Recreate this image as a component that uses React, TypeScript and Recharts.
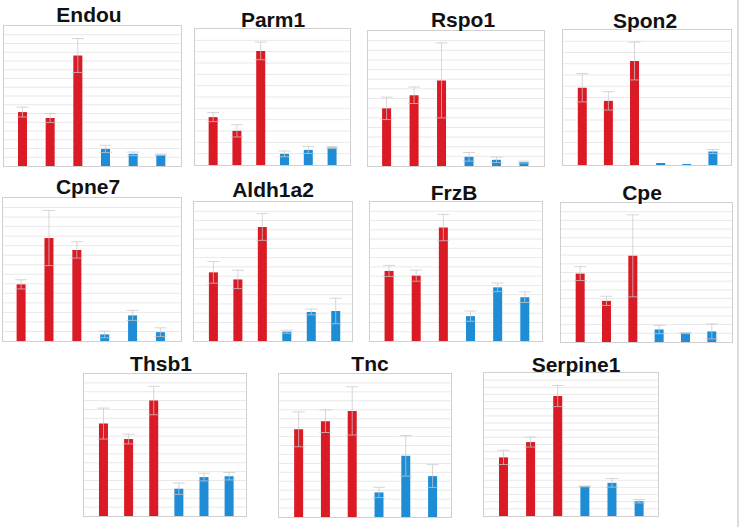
import React from "react";
import { BarChart, Bar, XAxis, YAxis, ReferenceLine, ErrorBar, Cell } from "recharts";

// six samples per gene: three red groups, three blue groups
const groups = ["r1", "r2", "r3", "b1", "b2", "b3"];
const RED = "#da1a24";
const BLUE = "#1f8dd6";

const genes = ["Endou", "Parm1", "Rspo1", "Spon2", "Cpne7", "Aldh1a2", "FrzB", "Cpe", "Thsb1", "Tnc", "Serpine1"];

// values as % of each panel's axis height
const endouMean = [38.5, 34.3, 78.9, 12.2, 8.7, 8.0];
const endouErr = [3.5, 3.2, 12.1, 2.6, 1.3, 0.5];
const parm1Mean = [35.2, 25.1, 83.9, 8.2, 11.1, 12.8];
const parm1Err = [3.3, 4.5, 6.5, 2.1, 2.6, 0.7];
const rspo1Mean = [42.7, 52.4, 63.4, 6.8, 4.6, 2.9];
const rspo1Err = [8.3, 6.1, 27.8, 3.2, 2.0, 0.7];
const spon2Mean = [57.2, 47.5, 77.0, 1.5, 0.7, 10.0];
const spon2Err = [10.5, 6.8, 14.0, 0, 0, 1.5];
const cpne7Mean = [39.6, 72.0, 63.7, 4.6, 17.9, 6.2];
const cpne7Err = [3.2, 19.3, 5.7, 2.3, 3.5, 3.0];
const aldh1a2Mean = [49.4, 44.3, 82.1, 6.7, 20.9, 21.6];
const aldh1a2Err = [7.8, 6.6, 9.7, 1.1, 2.1, 9.2];
const frzbMean = [50.4, 47.0, 81.6, 17.9, 38.6, 31.5];
const frzbErr = [4.0, 4.0, 9.5, 3.7, 3.1, 3.8];
const cpeMean = [49.2, 29.6, 62.0, 9.0, 6.4, 7.6];
const cpeErr = [5.0, 3.3, 29.5, 3.0, 0.4, 5.4];
const thsb1Mean = [65.1, 54.2, 81.3, 19.2, 27.4, 28.0];
const thsb1Err = [10.9, 3.4, 10.0, 4.0, 2.7, 2.6];
const tncMean = [61.3, 67.0, 74.2, 17.2, 42.8, 28.6];
const tncErr = [12.2, 7.9, 16.9, 3.6, 14.2, 8.0];
const serpine1Mean = [41.0, 51.7, 83.9, 20.7, 23.2, 10.3];
const serpine1Err = [5.0, 3.5, 7.4, 0.3, 3.0, 1.2];

const means = [endouMean, parm1Mean, rspo1Mean, spon2Mean, cpne7Mean, aldh1a2Mean, frzbMean, cpeMean, thsb1Mean, tncMean, serpine1Mean];
const errors = [endouErr, parm1Err, rspo1Err, spon2Err, cpne7Err, aldh1a2Err, frzbErr, cpeErr, thsb1Err, tncErr, serpine1Err];

// number of gridline intervals per panel
const gridSteps = [16, 12, 14, 12, 15, 15, 15, 16, 16, 16, 20];

// layout: plot box [x1, y1, x2, y2], first/last bar centre, title [centreX, baseline]
const boxes = [
  [3, 25, 182, 167], [194, 28, 351, 166], [367, 30, 545, 167], [562, 29, 732, 166],
  [2, 197, 182, 342], [193, 201, 353, 342], [369, 201, 543, 342], [560, 202, 733, 343],
  [83, 373, 247, 517], [278, 373, 452, 518], [483, 372, 659, 517],
];
const barSpans = [
  [22, 162], [212.7, 333.3], [386, 525], [581, 713.3],
  [20.7, 161.7], [212.3, 336.3], [388.3, 525.7], [579, 712.3],
  [102.7, 230], [297.7, 433.3], [502.7, 640],
];
const titles = [
  [89, 22], [273, 27], [463, 27], [645, 27.5],
  [88, 193.5], [273, 196.5], [454, 199.5], [642, 200],
  [161, 370.5], [370, 370.5], [576, 371.5],
];

const noMargin = { top: 0, right: 0, bottom: 0, left: 0 };

function Panel({ idx }: { idx: number }) {
  const [x1, y1, x2, y2] = boxes[idx];
  const [first, last] = barSpans[idx];
  const w = x2 - x1;
  const h = y2 - y1;
  const band = (last - first) / 5;
  const padL = first - x1 - band / 2;
  const padR = x2 - last - band / 2;
  const steps = gridSteps[idx];
  const ticks = Array.from({ length: steps - 1 }, (_, i) => (100 * (i + 1)) / steps);
  const data = groups.map((g, i) => ({ g, value: means[idx][i], err: errors[idx][i] }));
  const [cx, base] = titles[idx];

  return (
    <>
      <div
        style={{
          position: "absolute",
          left: x1,
          top: y1,
          width: w,
          height: h,
          border: "1px solid #d0d0d0",
          boxSizing: "border-box",
          background: "#fff",
        }}
      >
        {/* gridlines in their own layer, behind the bars */}
        <div style={{ position: "absolute", left: 0, top: 0 }}>
          <BarChart width={w - 2} height={h - 2} data={data} margin={noMargin}>
            <XAxis dataKey="g" hide />
            <YAxis hide domain={[0, 100]} />
            <Bar dataKey="value" fill="none" fillOpacity={0} isAnimationActive={false} />
            {ticks.map((t) => (
              <ReferenceLine key={t} y={t} stroke="#e9e9e9" strokeWidth={1} />
            ))}
          </BarChart>
        </div>
        <div style={{ position: "absolute", left: 0, top: 0 }}>
          <BarChart width={w - 2} height={h - 2} data={data} margin={noMargin}>
            <XAxis dataKey="g" hide padding={{ left: padL, right: padR }} />
            <YAxis hide domain={[0, 100]} />
            <Bar dataKey="value" barSize={9} isAnimationActive={false}>
              {data.map((d, i) => (
                <Cell key={d.g} fill={i < 3 ? RED : BLUE} />
              ))}
              <ErrorBar dataKey="err" width={6} stroke="#c8c8c8" strokeWidth={1} strokeOpacity={0.75} />
            </Bar>
          </BarChart>
        </div>
      </div>
      <div
        style={{
          position: "absolute",
          left: cx - 70,
          top: base - 17,
          width: 140,
          textAlign: "center",
          fontFamily: '"Liberation Sans", Arial, sans-serif',
          fontWeight: "bold",
          fontSize: 21,
          lineHeight: "19px",
          color: "#111",
        }}
      >
        {genes[idx]}
      </div>
    </>
  );
}

export default function App() {
  return (
    <div style={{ position: "absolute", left: 0, top: 0, width: 740, height: 527, background: "#fff", overflow: "hidden" }}>
      {genes.map((g, i) => (
        <Panel key={g} idx={i} />
      ))}
      <div style={{ position: "absolute", left: 737, top: 0, width: 2, height: 527, background: "#dcdcdc" }} />
    </div>
  );
}
